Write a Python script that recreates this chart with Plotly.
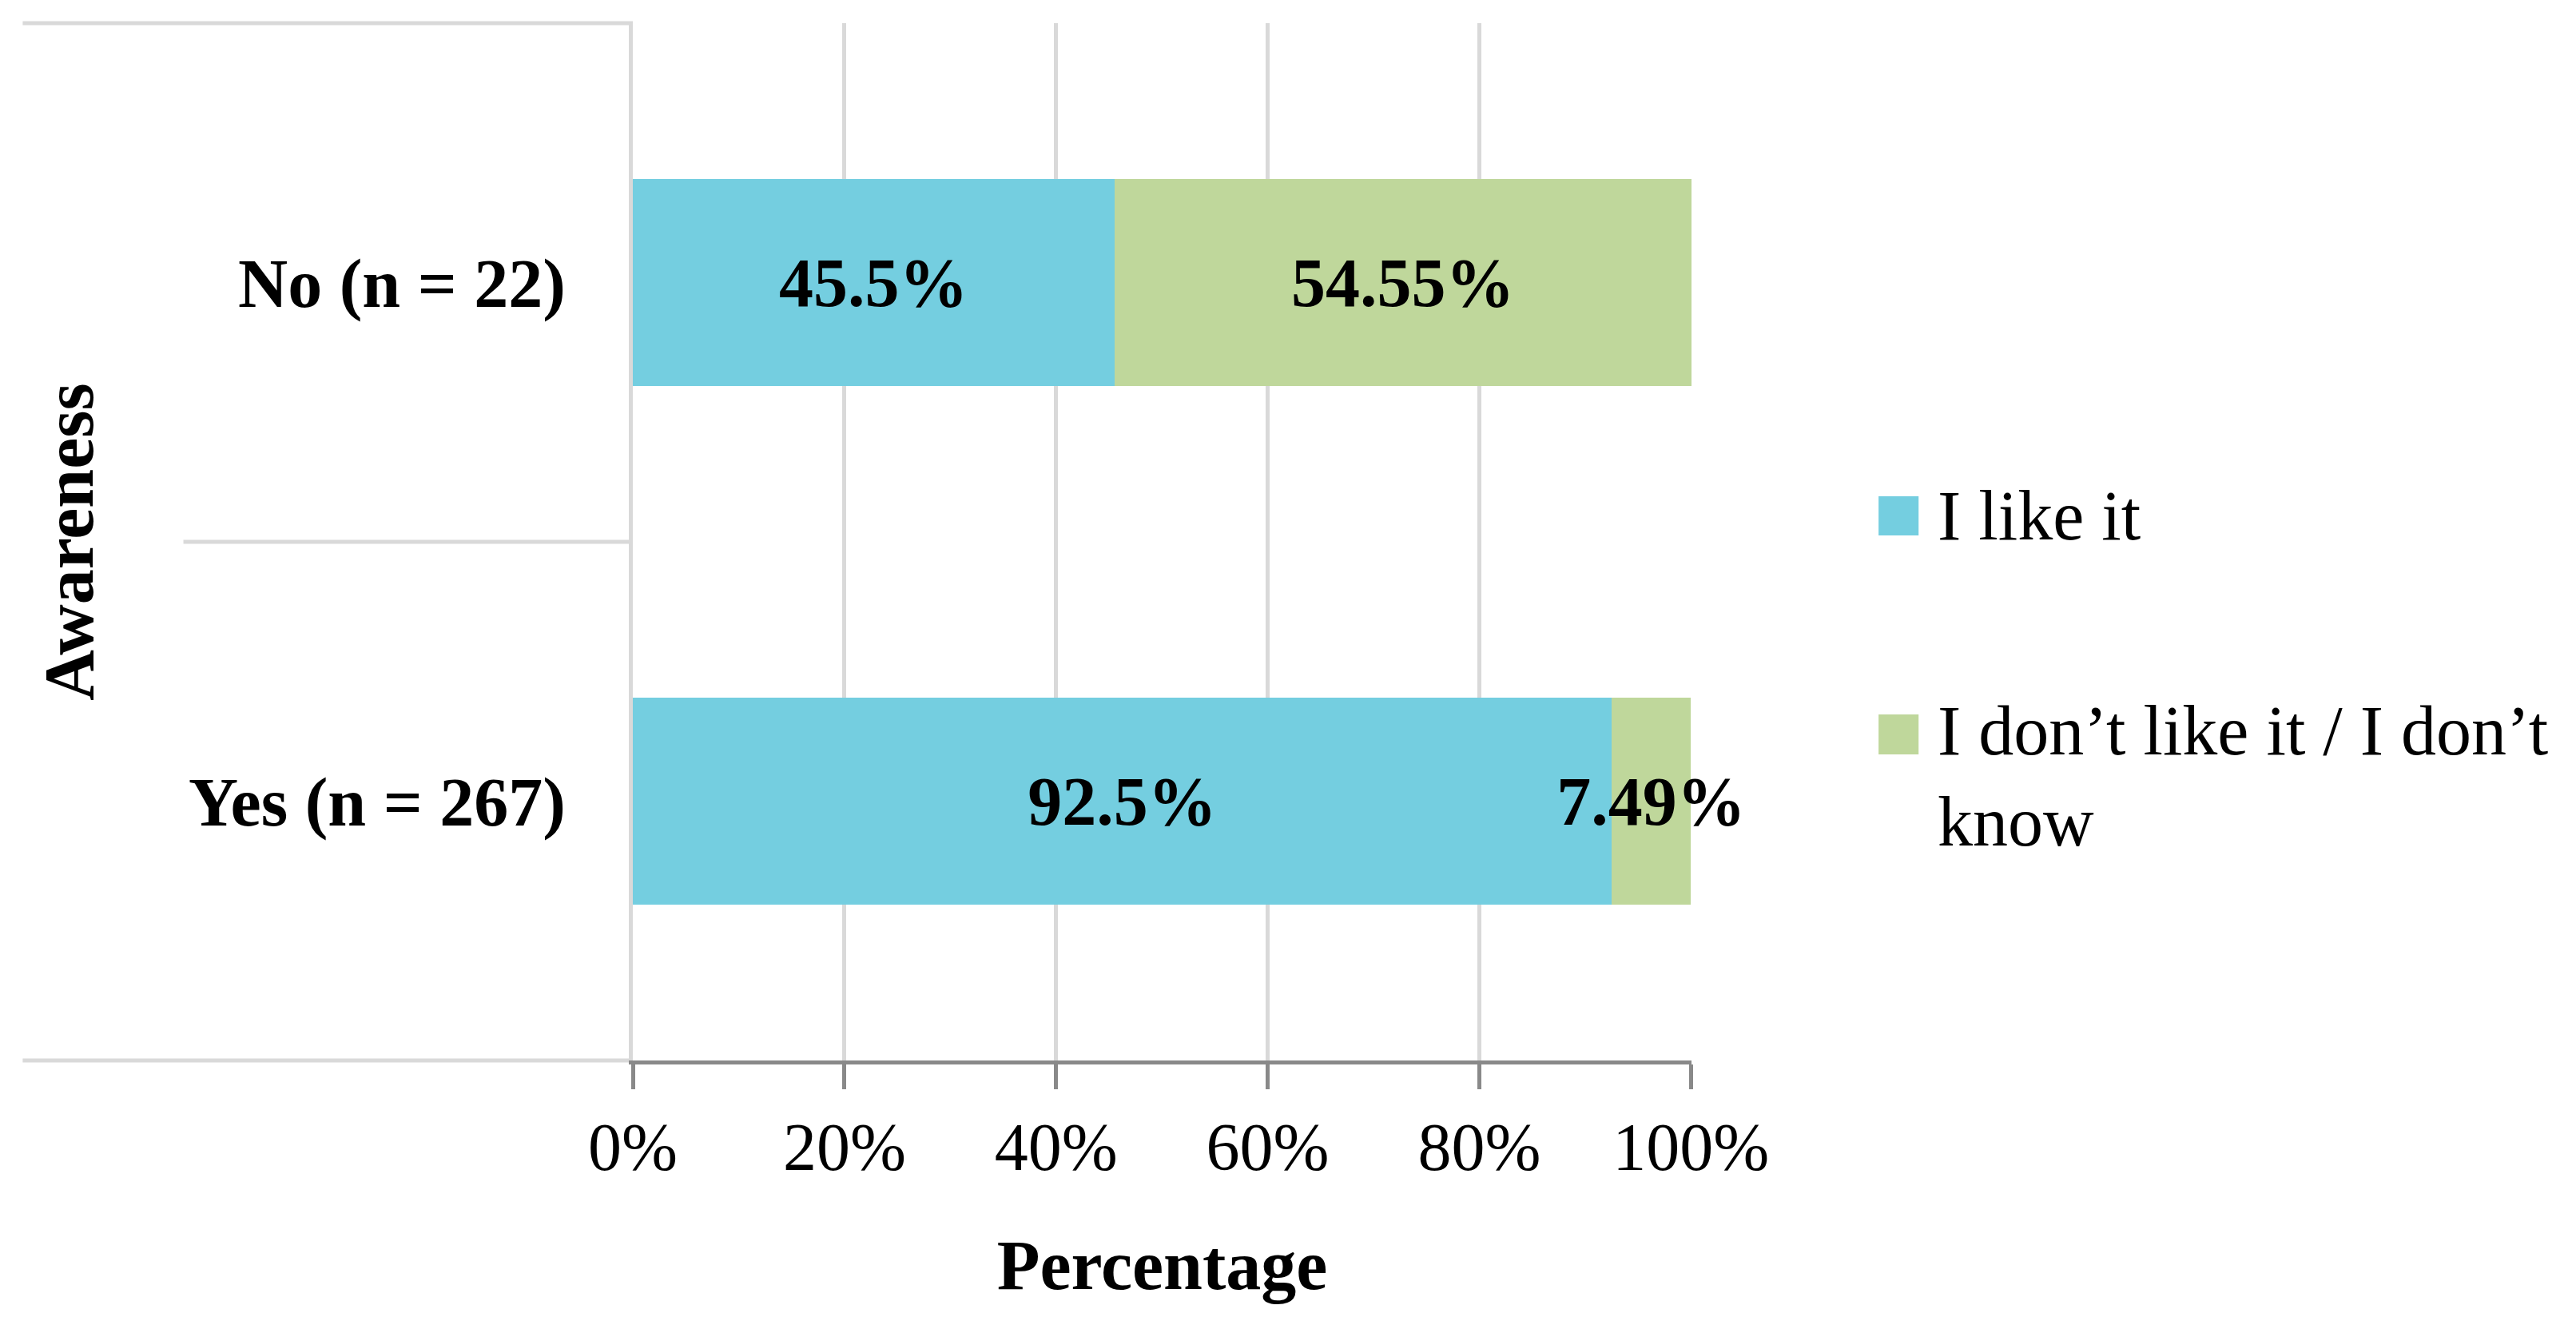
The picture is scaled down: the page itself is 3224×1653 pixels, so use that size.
import plotly.graph_objects as go

categories = ["Yes (n = 267)", "No (n = 22)"]
like_vals = [92.5, 45.5]
dislike_vals = [7.49, 54.55]
series_names = ["I like it", "I don\u2019t like it / I don\u2019t<br>know"]
tick_vals = [0, 20, 40, 60, 80, 100]
tick_text = ["0%", "20%", "40%", "60%", "80%", "100%"]

C_LIKE = "#74CEE0"
C_DISLIKE = "#BFD79B"
GRID = "#D9D9D9"
AXIS = "#898989"
FONT = "Liberation Serif"

fig = go.Figure()
for vals, name, col in [(like_vals, series_names[0], C_LIKE),
                        (dislike_vals, series_names[1], C_DISLIKE)]:
    fig.add_trace(go.Bar(
        y=categories, x=vals, name=name, orientation="h",
        marker=dict(color=col, line=dict(width=0)),
        texttemplate="%{x}%", textposition="inside", insidetextanchor="middle",
        textangle=0, constraintext="none", cliponaxis=False,
        textfont=dict(family=FONT, size=86, color="black", weight="bold"),
        showlegend=False,
    ))

# page body has an 8px margin, so the figure is sized/offset accordingly
fig.update_layout(
    width=3208, height=1637,
    margin=dict(l=784, r=1099, t=21, b=318, autoexpand=False),
    barmode="stack", bargap=0.6,
    plot_bgcolor="white", paper_bgcolor="white",
    font=dict(family=FONT, size=86, color="black"),
    showlegend=False,
)
fig.update_xaxes(
    range=[0, 100.05], tickvals=tick_vals, ticktext=tick_text,
    showgrid=True, gridcolor=GRID, gridwidth=5, zeroline=False,
    showline=True, linecolor=AXIS, linewidth=5,
    ticks="outside", ticklen=31, tickwidth=5, tickcolor=AXIS,
    tickfont=dict(family=FONT, size=84, color="black"),
    title=dict(text="Percentage", standoff=72,
               font=dict(family=FONT, size=88, color="black", weight="bold")),
    automargin=False,
)
fig.update_yaxes(
    categoryorder="array", categoryarray=categories,
    showgrid=False, zeroline=False, showline=True, linecolor=GRID, linewidth=5,
    ticks="", ticklabelstandoff=62,
    tickfont=dict(family=FONT, size=86, color="black", weight="bold"),
    title=dict(text="Awareness", standoff=92,
               font=dict(family=FONT, size=88, color="black", weight="bold")),
    automargin=False,
)

# category-table lines to the left of the plot
for x0, y in [(-0.5763, 1.0), (-0.4245, 0.5), (-0.5763, 0.0)]:
    fig.add_shape(type="line", xref="paper", yref="paper", x0=x0, x1=0, y0=y, y1=y,
                  line=dict(color=GRID, width=5), layer="below")

# custom legend
legend_items = [
    (C_LIKE, series_names[0], 0.5439, 0.5062, 0.5247),
    (C_DISLIKE, series_names[1], 0.3336, 0.2951, 0.2740),
]
for col, name, ya, yb, yt in legend_items:
    fig.add_shape(type="rect", xref="paper", yref="paper", x0=1.1767, x1=1.2145,
                  y0=yb, y1=ya, fillcolor=col, line=dict(width=0))
    fig.add_annotation(xref="paper", yref="paper", x=1.2311, y=yt, text=name,
                       showarrow=False, xanchor="left", yanchor="middle", align="left",
                       font=dict(family=FONT, size=88, color="black"))

fig.write_html("out.html")
